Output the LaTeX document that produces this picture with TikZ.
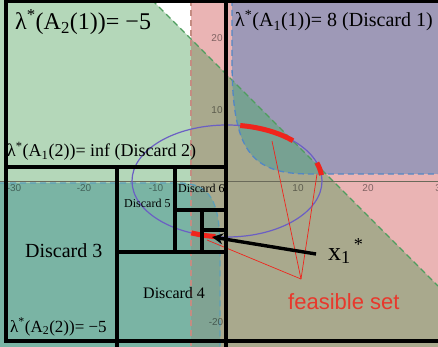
\documentclass[tikz,border=0pt]{standalone}
\usepackage{fontspec}
\setmainfont{Liberation Serif}
\setsansfont{Liberation Sans}
\usepackage{xcolor}
\usetikzlibrary{arrows.meta}

\definecolor{leafgreen}{HTML}{B4D7B9}
\definecolor{rosefill}{HTML}{EAB4B4}
\definecolor{olivefill}{HTML}{A9A98D}
\definecolor{lilac}{HTML}{9E99B7}
\definecolor{deepteal}{HTML}{77A192}
\definecolor{seateal}{HTML}{7AB4A4}
\definecolor{greyteal}{HTML}{80A393}
\definecolor{greendash}{HTML}{4E9E5E}
\definecolor{rosedash}{HTML}{C48C82}
\definecolor{bluedash}{HTML}{5287C4}
\definecolor{tealdash}{HTML}{5C9FB8}
\definecolor{orbitcol}{HTML}{6B5FC4}
\definecolor{hitred}{HTML}{F0241C}
\definecolor{axiscol}{HTML}{6A6A5A}
\definecolor{fsred}{HTML}{E8382C}

\newcommand{\pxfont}[1]{\fontsize{#1}{#1}\selectfont}

\begin{document}
\begin{tikzpicture}[
			x=1pt, y=-1pt,
			limit/.style={dash pattern=on 6pt off 4pt, line width=1.3pt},
			bound/.style={line width=3.6pt, line cap=rect},
			lbl/.style={anchor=base west, inner sep=0pt, font=\pxfont{#1}},
			tick/.style={font=\sffamily\pxfont{10}, text=black, text opacity=.45, inner sep=0pt},
			orbit/.style={draw=orbitcol, line width=1.2pt},
			hit/.style={draw=hitred, line width=5pt},
			ray/.style={draw=hitred, line width=.7pt},
			ptr/.style={-{Stealth[length=11pt, width=11pt]}, line width=3.4pt}
			]
			
			\useasboundingbox (0,0) rectangle (438,347);
			\clip (0,0) rectangle (438,347);
			
			% regions
			\fill[white] (0,0) rectangle (438,347);
			\fill[leafgreen] (0,0) -- (152,0) -- (438,286) -- (438,347) -- (0,347) -- cycle;
			\fill[rosefill] (191,0) rectangle (438,347);
			\fill[olivefill] (191,39) -- (438,286) -- (438,347) -- (191,347) -- cycle;
			\fill[lilac] (232,0) -- (232,60) .. controls (232,150) and (250,174) .. (310,174) -- (438,174) -- (438,0) -- cycle;
			\begin{scope}
				\clip (0,0) -- (152,0) -- (438,286) -- (438,347) -- (0,347) -- cycle;
				\fill[deepteal] (232,0) -- (232,60) .. controls (232,150) and (250,174) .. (310,174) -- (438,174) -- (438,0) -- cycle;
			\end{scope}
			\fill[seateal] (0,183) -- (178,183) .. controls (210,183) and (220,200) .. (220,250) -- (220,347) -- (0,347) -- cycle;
			\begin{scope}
				\clip (191,0) rectangle (438,347);
				\fill[greyteal] (0,183) -- (178,183) .. controls (210,183) and (220,200) .. (220,250) -- (220,347) -- (0,347) -- cycle;
			\end{scope}
			
			\draw[limit, draw=greendash] (152,0) -- (438,286);
			\draw[limit, draw=rosedash] (191,0) -- (191,347);
			\draw[limit, draw=bluedash] (232,0) -- (232,60) .. controls (232,150) and (250,174) .. (310,174) -- (438,174);
			\draw[limit, draw=tealdash] (0,183) -- (178,183) .. controls (210,183) and (220,200) .. (220,250) -- (220,347);
			\draw[axiscol, line width=.8pt] (0,181) -- (438,181);
			
			\foreach \v/\px in {-30/14, -20/84, -10/156, 10/298, 20/368, 30/441}
				\node[tick] (tx\px) at (\px,188) {\v};
			\node[tick] (ty20) at (217,38) {20};
			\node[tick] (ty10) at (217,110) {10};
			\node[tick] (tyneg) at (216,322) {-20};
			
			% level set and its hits
			\coordinate (cen) at (227,181);
			\draw[orbit] (cen) ellipse [x radius=95, y radius=56];
			\draw[hit] (cen) ++(-82:95 and 56) arc[start angle=-82, end angle=-46, x radius=95, y radius=56];
			\draw[hit] (cen) ++(-19:95 and 56) arc[start angle=-19, end angle=-6, x radius=95, y radius=56];
			\draw[hit] (cen) ++(97:95 and 56) arc[start angle=97, end angle=112, x radius=95, y radius=56];
			
			\coordinate (fsp) at (301,279);
			\coordinate (r1) at (272,141);
			\coordinate (r2) at (317,174);
			\coordinate (r3) at (207,240);
			\draw[ray] (fsp) -- (r1);
			\draw[ray] (fsp) -- (r2);
			\draw[ray] (fsp) -- (r3);
			
			% partition
			\draw[bound] (6,341) -- (6,1) -- (438,1);
			\draw[bound] (6,341) -- (438,341);
			\draw[bound] (226,0) -- (226,347);
			\draw[bound] (6,167) -- (226,167);
			\draw[bound] (117,167) -- (117,347);
			\draw[bound] (117,252) -- (226,252);
			\draw[bound] (175,167) -- (175,252);
			\draw[bound] (175,210) -- (226,210);
			\draw[bound] (202,210) -- (202,252);
			\draw[bound] (202,230) -- (226,230);
			
			\node[lbl=24] (a21) at (15,30) {λ\textsuperscript{*}(A\textsubscript{2}(1))= −5};
			\node[lbl=20] (a11) at (235,27) {λ\textsuperscript{*}(A\textsubscript{1}(1))= 8 (Discard 1)};
			\node[lbl=18] (a12) at (7,157) {λ\textsuperscript{*}(A\textsubscript{1}(2))= inf (Discard 2)};
			\node[lbl=20] (d3) at (25,257) {Discard 3};
			\node[lbl=16] (d4) at (143,298) {Discard 4};
			\node[lbl=12] (d5) at (124,207) {Discard 5};
			\node[lbl=12] (d6) at (178,193) {Discard 6};
			\node[lbl=17] (a22) at (10,332) {λ\textsuperscript{*}(A\textsubscript{2}(2))= −5};
			\node[lbl=22, font=\sffamily\pxfont{22}, text=fsred] (fslab) at (288,309) {feasible set};
			\node[lbl=26] (xlab) at (328,260) {x\textsubscript{1}\textsuperscript{\,*}};
			
			\coordinate (xstar) at (212,237);
			\draw[ptr] ([shift={(-12,-6)}]xlab.base west) -- (xstar);
			
		\end{tikzpicture}
\end{document}
